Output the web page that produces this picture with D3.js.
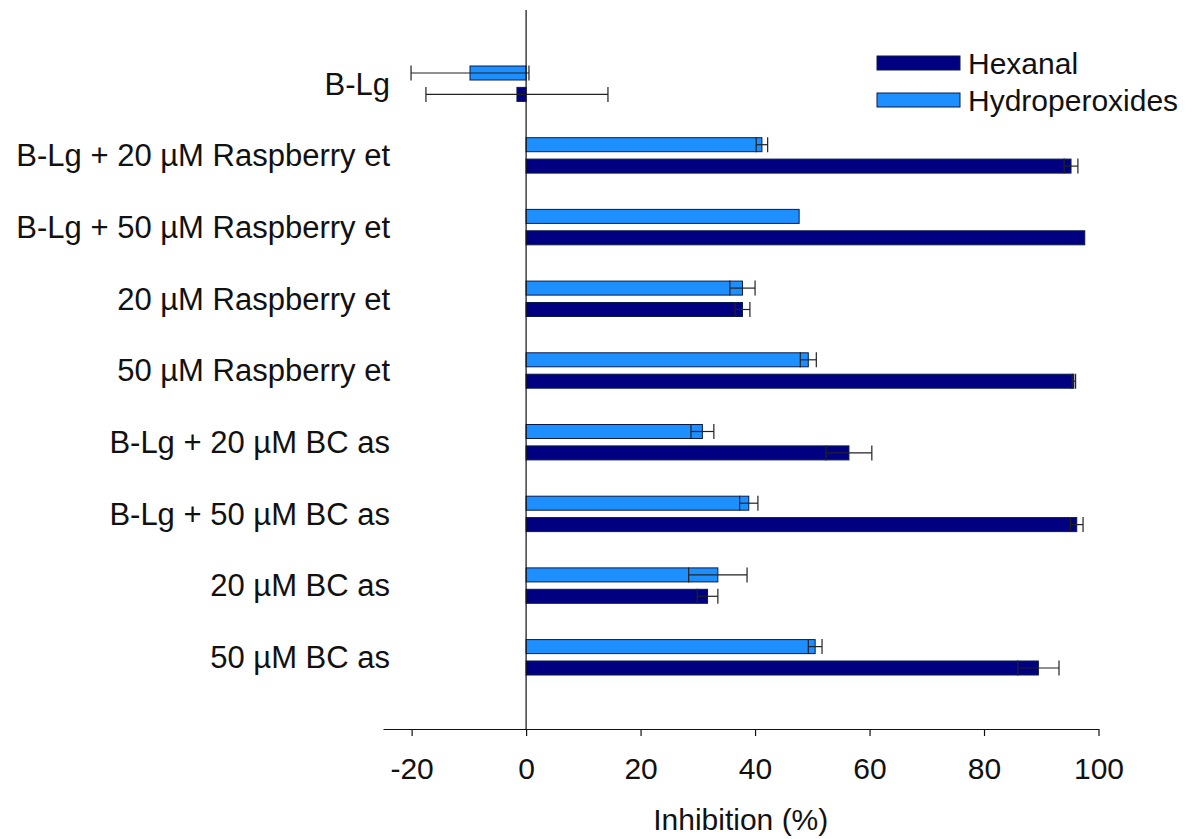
<!DOCTYPE html>
<html>
<head>
<meta charset="utf-8">
<script src="https://cdn.jsdelivr.net/npm/d3@7"></script>
<style>
  html, body { margin: 0; padding: 0; background: #ffffff; }
  svg { display: block; }
  text { font-family: "Liberation Sans", Arial, sans-serif; fill: #111; }
</style>
</head>
<body>
<svg id="chart" width="1198" height="839"></svg>
<script>
// Treatments, top to bottom
const categories = [
  "B-Lg",
  "B-Lg + 20 µM Raspberry et",
  "B-Lg + 50 µM Raspberry et",
  "20 µM Raspberry et",
  "50 µM Raspberry et",
  "B-Lg + 20 µM BC as",
  "B-Lg + 50 µM BC as",
  "20 µM BC as",
  "50 µM BC as"
];
// Inhibition (%) and error (±)
const hydroperoxides    = [-9.8, 41.2, 47.7, 37.8, 49.3, 30.8, 38.9, 33.5, 50.5];
const hydroperoxidesErr = [10.3, 1.0, 0, 2.2, 1.4, 2.0, 1.6, 5.1, 1.2];
const hexanal           = [-1.6, 95.2, 97.6, 37.8, 95.7, 56.4, 96.2, 31.7, 89.5];
const hexanalErr        = [15.9, 1.2, 0, 1.3, 0.3, 4.0, 1.1, 1.8, 3.6];
const xTicks = [-20, 0, 20, 40, 60, 80, 100];

const seriesNames = ["Hexanal", "Hydroperoxides"];
const seriesColors = { "Hexanal": "#000080", "Hydroperoxides": "#1E8FFF" };

const svg = d3.select("#chart");

const x = d3.scaleLinear().domain([-25, 100]).range([383, 1098.5]);
const y = d3.scaleBand().domain(categories).range([12, 729]).paddingInner(0).paddingOuter(0.5);

const barH = 14, gap = 3.7;

// Rows: hydroperoxides above, hexanal below within each category
const rows = [];
categories.forEach((c, i) => {
  const mid = y(c) + y.bandwidth() / 2;
  rows.push({ cat: c, series: "Hydroperoxides", v: hydroperoxides[i], e: hydroperoxidesErr[i], y0: mid - gap - barH });
  rows.push({ cat: c, series: "Hexanal", v: hexanal[i], e: hexanalErr[i], y0: mid + gap });
});

// Bars
svg.append("g").selectAll("rect").data(rows).join("rect")
  .attr("x", d => Math.min(x(0), x(d.v)))
  .attr("y", d => d.y0)
  .attr("width", d => Math.abs(x(d.v) - x(0)))
  .attr("height", barH)
  .attr("fill", d => seriesColors[d.series])
  .attr("stroke", "#0a1a4a")
  .attr("stroke-width", 1);

// Error bars with caps at both ends
const eb = svg.append("g").attr("stroke", "#222").attr("stroke-width", 1.2);
rows.filter(d => d.e > 0).forEach(d => {
  const cy = d.y0 + barH / 2;
  const x1 = x(d.v - d.e), x2 = x(d.v + d.e);
  eb.append("line").attr("x1", x1).attr("x2", x2).attr("y1", cy).attr("y2", cy);
  [x1, x2].forEach(xx => eb.append("line").attr("x1", xx).attr("x2", xx)
    .attr("y1", d.y0 - 0.5).attr("y2", d.y0 + barH + 0.5));
});

// Zero line
svg.append("line")
  .attr("x1", x(0)).attr("x2", x(0))
  .attr("y1", 10).attr("y2", 729)
  .attr("stroke", "#111").attr("stroke-width", 1.2);

// X axis
const xAxis = svg.append("g")
  .attr("transform", "translate(0,729)")
  .call(d3.axisBottom(x).tickValues(xTicks).tickSize(7).tickSizeOuter(0).tickPadding(22)
    .tickFormat(d => String(d)));
xAxis.select(".domain").attr("stroke", "#111").attr("stroke-width", 1.2);
xAxis.selectAll(".tick line").attr("stroke", "#111").attr("stroke-width", 1.2);
xAxis.selectAll(".tick text").attr("font-size", 30).attr("fill", "#111")
  .style("font-family", '"Liberation Sans", Arial, sans-serif');

// Axis title
svg.append("text")
  .attr("x", (x(-25) + x(100)) / 2)
  .attr("y", 830)
  .attr("text-anchor", "middle")
  .attr("font-size", 30)
  .text("Inhibition (%)");

// Category labels
svg.append("g").selectAll("text").data(categories).join("text")
  .attr("x", 390)
  .attr("y", d => y(d) + y.bandwidth() / 2)
  .attr("dy", "0.35em")
  .attr("text-anchor", "end")
  .attr("font-size", 31)
  .text(d => d);

// Legend
const legend = svg.append("g");
seriesNames.forEach((s, i) => {
  const ly = 56 + i * 37;
  legend.append("rect")
    .attr("x", 877).attr("y", ly).attr("width", 83).attr("height", 14)
    .attr("fill", seriesColors[s]).attr("stroke", "#0a1a4a").attr("stroke-width", 1);
  legend.append("text")
    .attr("x", 968).attr("y", ly + 7).attr("dy", "0.35em")
    .attr("font-size", 30)
    .text(s);
});
</script>
</body>
</html>
